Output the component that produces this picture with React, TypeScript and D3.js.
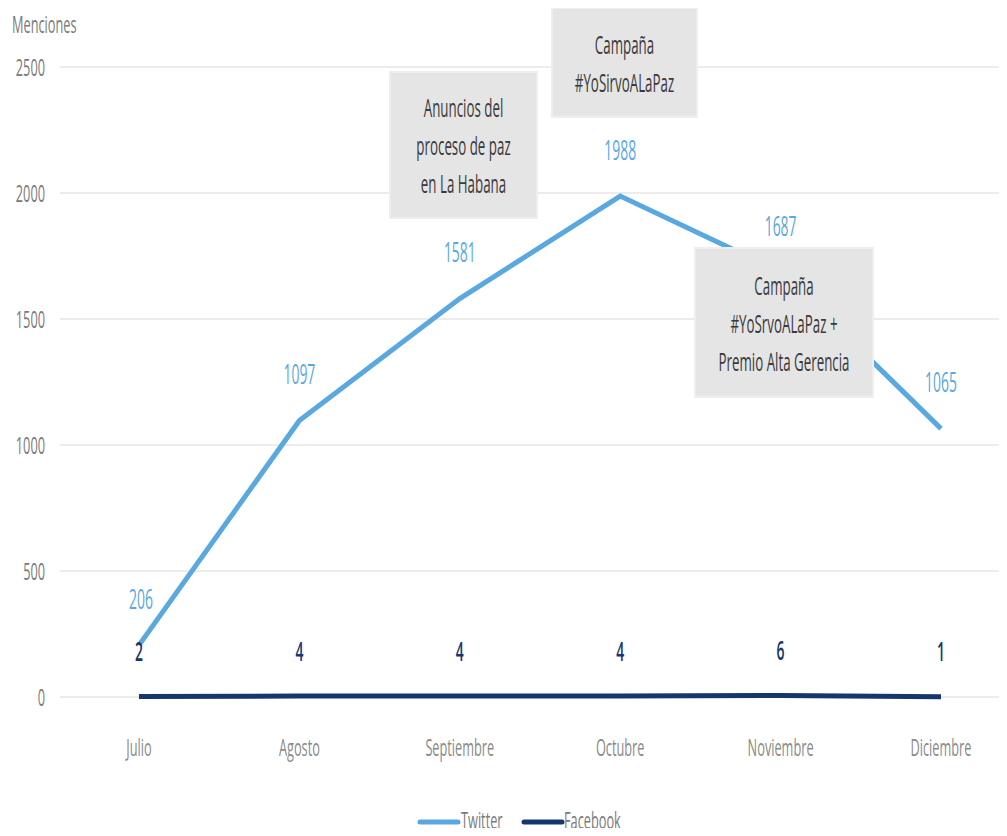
import { scaleLinear, scalePoint, line } from "d3";

const months = ["Julio", "Agosto", "Septiembre", "Octubre", "Noviembre", "Diciembre"];
const twitter = [206, 1097, 1581, 1988, 1687, 1065];
const facebook = [2, 4, 4, 4, 6, 1];
const yTicks = [0, 500, 1000, 1500, 2000, 2500];

const notes = [
  { lines: ["Anuncios del", "proceso de paz", "en La Habana"], x0: 390, y0: 72, x1: 537, y1: 218 },
  { lines: ["Campaña", "#YoSirvoALaPaz"], x0: 552, y0: 8, x1: 697, y1: 117 },
  { lines: ["Campaña", "#YoSrvoALaPaz +", "Premio Alta Gerencia"], x0: 695, y0: 248, x1: 873, y1: 397 },
];

const width = 1007;
const height = 836;
const twitterColor = "#5aa8e0";
const facebookColor = "#16376e";
const font = "'Open Sans', sans-serif";
const sx = 0.58;
const sy = 1.1;

const x = scalePoint<string>().domain(months).range([139, 941]);
const y = scaleLinear().domain([0, 2500]).range([697, 67]);

const Label = ({
  px,
  py,
  text,
  size,
  fill,
  anchor = "middle",
  weight = 400,
}: {
  px: number;
  py: number;
  text: string;
  size: number;
  fill: string;
  anchor?: "start" | "middle" | "end";
  weight?: number;
}) => (
  <g transform={`translate(${px}, ${py}) scale(${sx}, ${sy})`}>
    <text
      textAnchor={anchor}
      dominantBaseline="central"
      fontSize={size}
      fontFamily={font}
      fontWeight={weight}
      fill={fill}
    >
      {text}
    </text>
  </g>
);

export default function App() {
  const lineGen = line<number>()
    .x((_, i) => x(months[i]) as number)
    .y((d) => y(d));

  return (
    <svg width={width} height={height} style={{ display: "block", margin: -8 }}>
      <rect width={width} height={height} fill="white" />
      {yTicks.map((t) => (
        <g key={t}>
          <line x1={60} x2={width} y1={y(t)} y2={y(t)} stroke="#ececec" strokeWidth={2} />
          <Label px={45} py={y(t)} text={String(t)} size={22} fill="#7a7a7a" anchor="end" />
        </g>
      ))}
      <Label px={12} py={24} text="Menciones" size={22} fill="#7a7a7a" anchor="start" />
      {months.map((m) => (
        <Label key={m} px={x(m) as number} py={747} text={m} size={22} fill="#8a8a8a" />
      ))}

      <path d={lineGen(facebook) ?? ""} fill="none" stroke={facebookColor} strokeWidth={5} />
      <path d={lineGen(twitter) ?? ""} fill="none" stroke={twitterColor} strokeWidth={5} />

      {twitter.map((v, i) => (
        <Label
          key={"t" + i}
          px={(x(months[i]) as number) + (i === 0 ? 2 : 0)}
          py={y(v) - 47}
          text={String(v)}
          size={24}
          fill={twitterColor}
        />
      ))}
      {facebook.map((v, i) => (
        <Label
          key={"f" + i}
          px={x(months[i]) as number}
          py={y(v) - 46}
          text={String(v)}
          size={24}
          fill={facebookColor}
          weight={600}
        />
      ))}

      {notes.map((n, k) => {
        const cx = (n.x0 + n.x1) / 2;
        const cy = (n.y0 + n.y1) / 2;
        const lh = 38;
        return (
          <g key={k}>
            <rect
              x={n.x0}
              y={n.y0}
              width={n.x1 - n.x0}
              height={n.y1 - n.y0}
              fill="#e5e5e5"
              stroke="#eeeeee"
              strokeWidth={2}
            />
            {n.lines.map((l, j) => (
              <Label
                key={j}
                px={cx}
                py={cy + (j - (n.lines.length - 1) / 2) * lh}
                text={l}
                size={23}
                fill="#3a3a3a"
              />
            ))}
          </g>
        );
      })}

      <line x1={420} x2={458} y1={822} y2={822} stroke={twitterColor} strokeWidth={5} strokeLinecap="round" />
      <Label px={461} py={820} text="Twitter" size={22} fill="#7a7a7a" anchor="start" />
      <line x1={524} x2={562} y1={822} y2={822} stroke={facebookColor} strokeWidth={5} strokeLinecap="round" />
      <Label px={564} py={820} text="Facebook" size={22} fill="#7a7a7a" anchor="start" />
    </svg>
  );
}
